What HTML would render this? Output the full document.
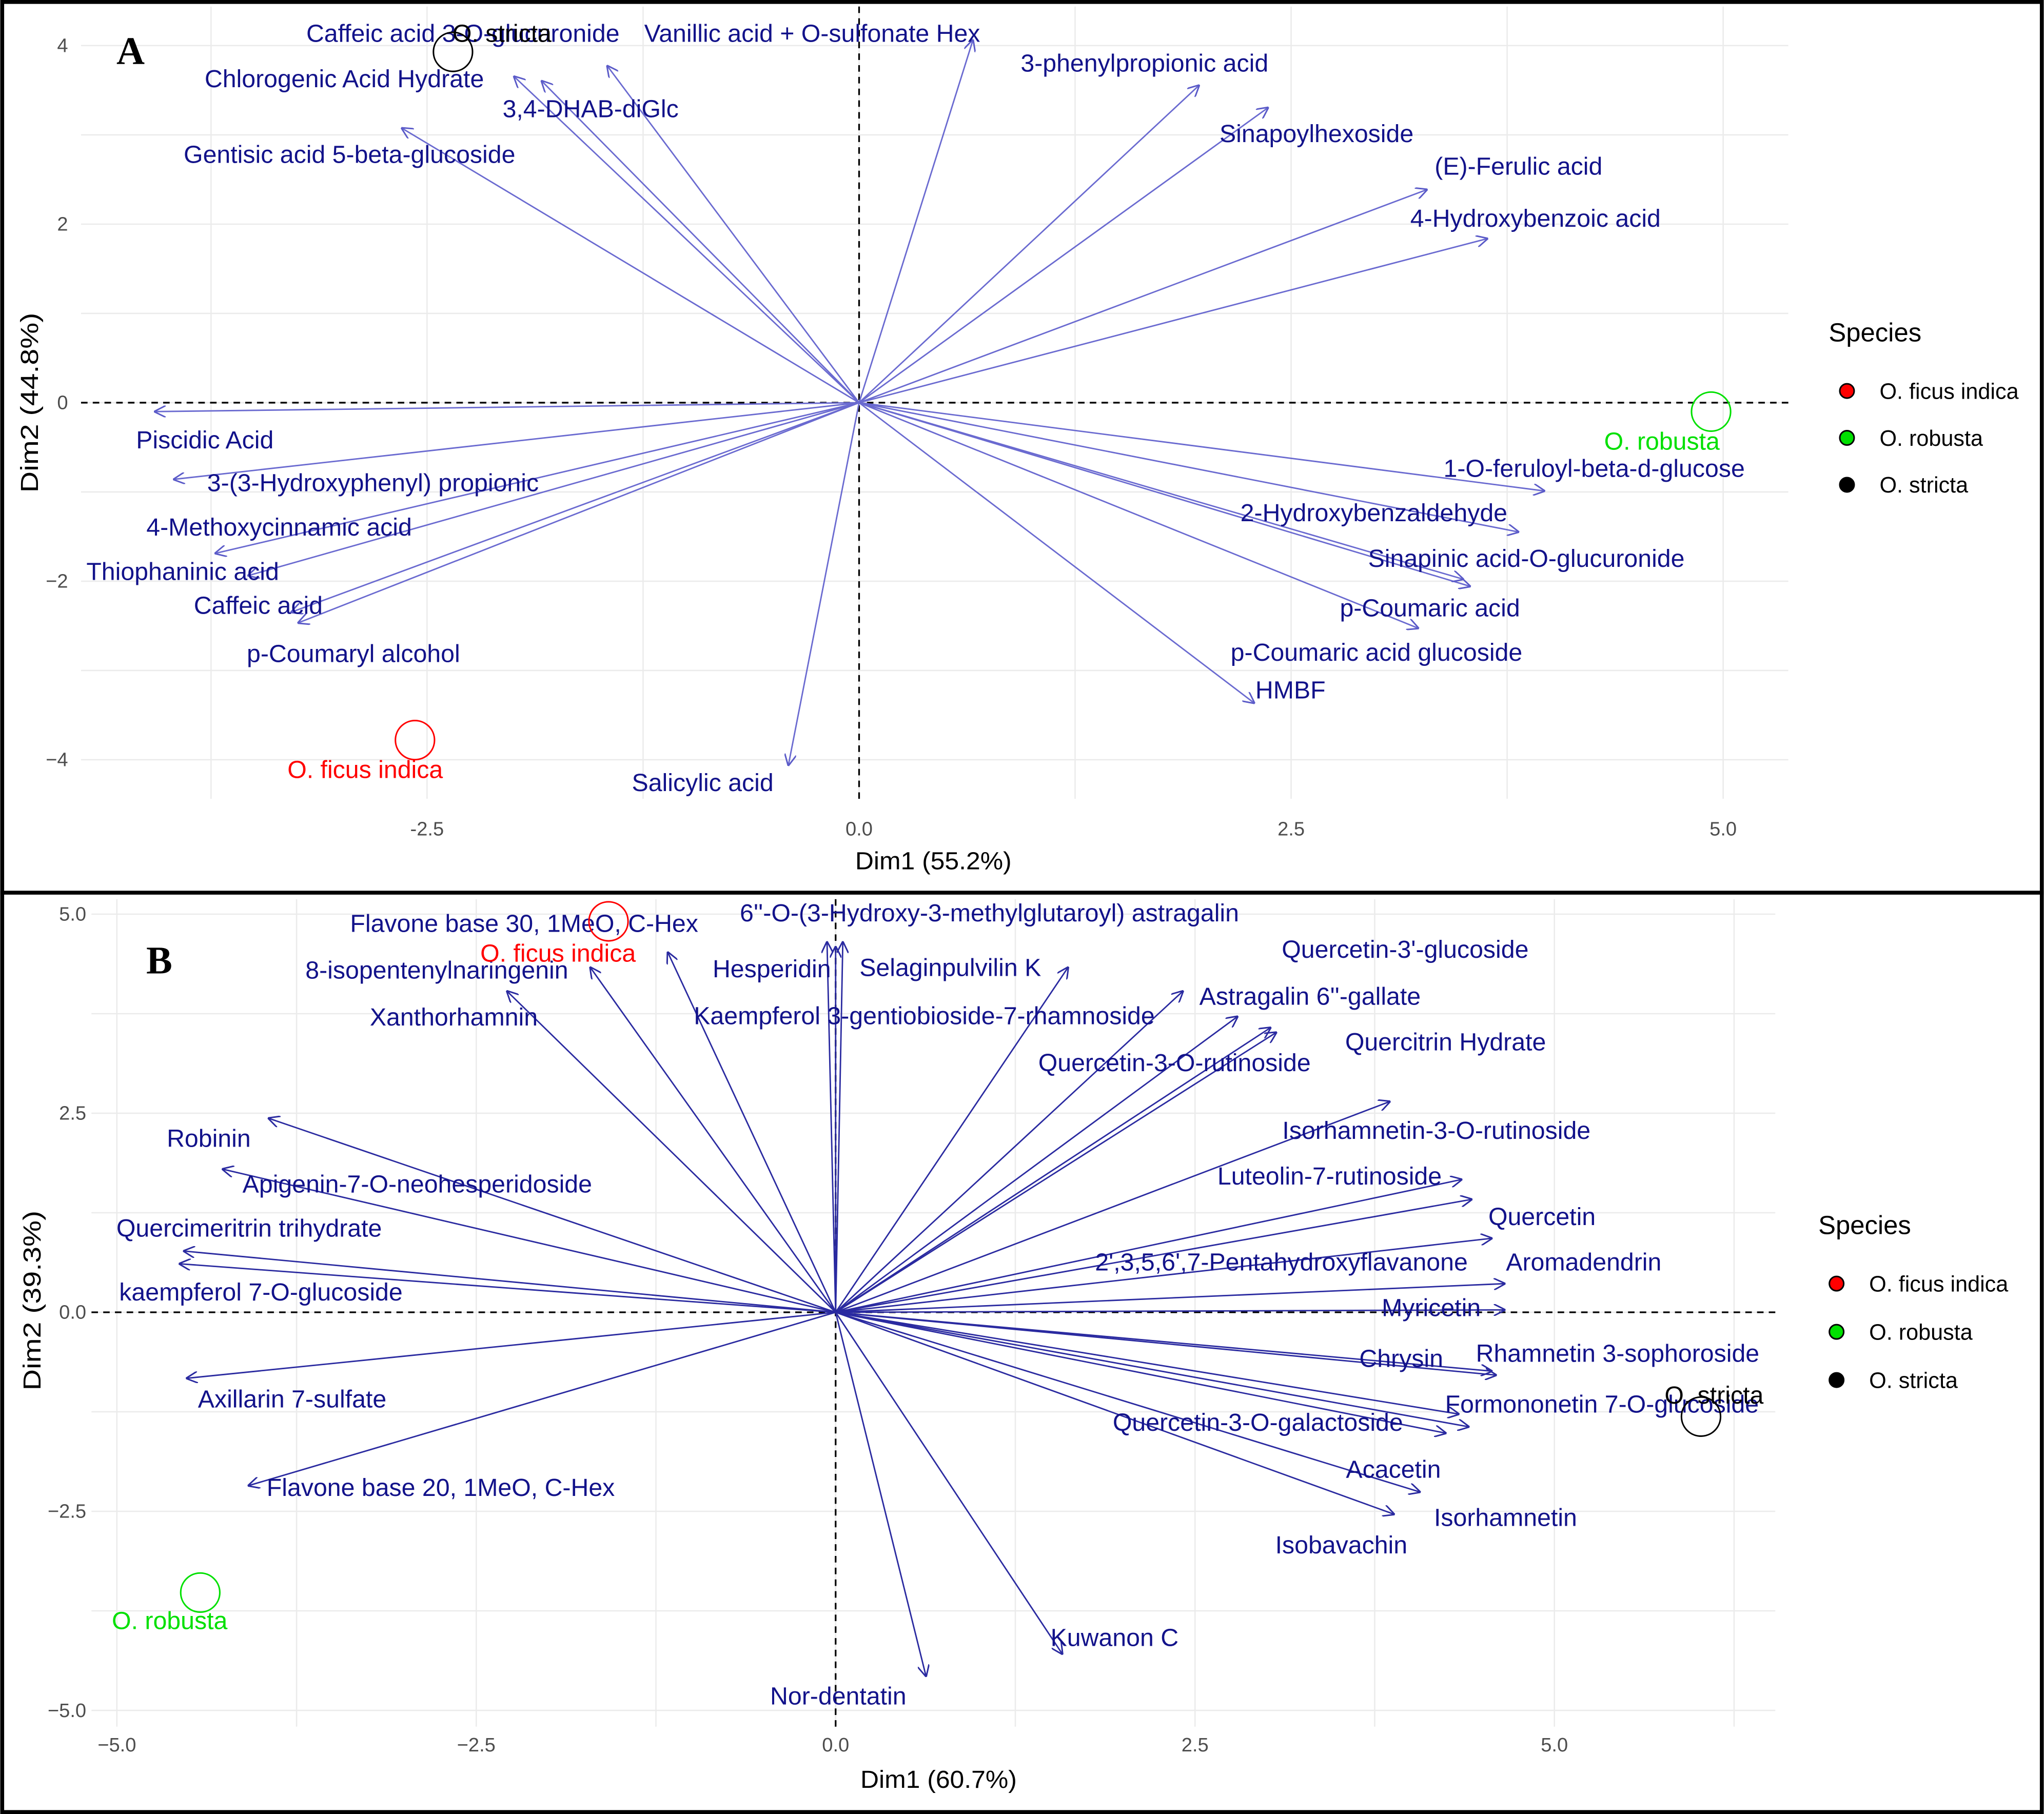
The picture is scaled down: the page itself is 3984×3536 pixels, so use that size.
<!DOCTYPE html>
<html><head><meta charset="utf-8"><style>
html,body{margin:0;padding:0;background:#fff;}
svg{display:block;font-family:"Liberation Sans",sans-serif;}
</style></head><body>
<svg id="fig" xmlns="http://www.w3.org/2000/svg" width="3984" height="3536" viewBox="0 0 1568 1392">
<defs>
<marker id="ah" viewBox="0 0 10 10" refX="10" refY="5" markerWidth="9" markerHeight="9" markerUnits="userSpaceOnUse" orient="auto">
<path d="M0,0 L10,5 L0,10" fill="none" stroke="#5a5ac8" stroke-width="1.3"/></marker>
<marker id="ahB" viewBox="0 0 10 10" refX="10" refY="5" markerWidth="9" markerHeight="9" markerUnits="userSpaceOnUse" orient="auto">
<path d="M0,0 L10,5 L0,10" fill="none" stroke="#2a2aa0" stroke-width="1.3"/></marker>
</defs>
<rect x="0" y="0" width="1568" height="1392" fill="#fff"/>
<g id="panelA"></g>
<g id="panelB"></g>
<rect x="1.5" y="1.5" width="1565" height="1389" fill="none" stroke="#000" stroke-width="3"/>
<line x1="0" y1="685" x2="1568" y2="685" stroke="#000" stroke-width="3"/>
</svg>
<script>
// ---------- Panel A data ----------
const varsA = ["Caffeic acid 3-O-glucuronide","Vanillic acid + O-sulfonate Hex","Chlorogenic Acid Hydrate","3,4-DHAB-diGlc","Gentisic acid 5-beta-glucoside","3-phenylpropionic acid","Sinapoylhexoside","(E)-Ferulic acid","4-Hydroxybenzoic acid","Piscidic Acid","3-(3-Hydroxyphenyl) propionic","4-Methoxycinnamic acid","Thiophaninic acid","Caffeic acid","p-Coumaryl alcohol","Salicylic acid","1-O-feruloyl-beta-d-glucose","2-Hydroxybenzaldehyde","Sinapinic acid-O-glucuronide","p-Coumaric acid","p-Coumaric acid glucoside","HMBF"];
const dim1A = [-1.46,0.66,-2.0,-1.84,-2.65,1.97,2.37,3.29,3.64,-4.08,-3.97,-3.73,-3.54,-3.25,-3.29,-0.41,3.97,3.82,3.54,3.50,3.24,2.29];
const dim2A = [3.78,4.07,3.66,3.61,3.08,3.56,3.31,2.39,1.84,-0.10,-0.86,-1.69,-1.94,-2.47,-2.35,-4.07,-0.99,-1.45,-2.06,-1.98,-2.53,-3.37];
const labelA = [[355,25],[623,25],[264,60],[453,83],[268,118],[878,48],[1010,102],[1165,127],[1178,167],[157,337],[286,370],[214,404],[140,438],[198,464],[271,501],[539,600],[1223,359],[1054,393],[1171,428],[1097,466],[1056,500],[990,529]];
const speciesA = ["O. ficus indica","O. robusta","O. stricta"];
const spDim1A = [-2.57,4.93,-2.35];
const spDim2A = [-3.78,-0.10,3.93];
const spLabelA = [[280,590],[1275,338],[385,25]];
const xTicksA = [-2.5,0.0,2.5,5.0];
const xTickLabelsA = ["-2.5","0.0","2.5","5.0"];
const yTicksA = [-4,-2,0,2,4];
const yTickLabelsA = ["\u22124","\u22122","0","2","4"];

// ---------- Panel B data ----------
const varsB = ["Flavone base 30, 1MeO, C-Hex","8-isopentenylnaringenin","Xanthorhamnin","6''-O-(3-Hydroxy-3-methylglutaroyl) astragalin","Hesperidin","Selaginpulvilin K","Kaempferol 3-gentiobioside-7-rhamnoside","Quercetin-3'-glucoside","Astragalin 6''-gallate","Quercitrin Hydrate","Quercetin-3-O-rutinoside","Isorhamnetin-3-O-rutinoside","Luteolin-7-rutinoside","Quercetin","2',3,5,6',7-Pentahydroxyflavanone","Aromadendrin","Myricetin","Chrysin","Rhamnetin 3-sophoroside","Formononetin 7-O-glucoside","Quercetin-3-O-galactoside","Acacetin","Isorhamnetin","Isobavachin","Kuwanon C","Nor-dentatin","Robinin","Apigenin-7-O-neohesperidoside","Quercimeritrin trihydrate","kaempferol 7-O-glucoside","Axillarin 7-sulfate","Flavone base 20, 1MeO, C-Hex"];
const dim1B = [-1.17,-1.71,-2.29,1.62,-0.06,0.05,0.0,2.42,2.80,3.07,3.03,3.86,4.36,4.43,4.57,4.66,4.66,4.60,4.57,4.41,4.34,4.07,3.89,4.25,1.58,0.63,-3.95,-4.27,-4.54,-4.57,-4.52,-4.09];
const dim2B = [4.53,4.34,4.04,4.34,4.66,4.66,4.60,4.04,3.72,3.52,3.58,2.65,1.67,1.42,0.93,0.36,0.03,-0.79,-0.74,-1.44,-1.28,-2.26,-2.54,-1.52,-4.30,-4.58,2.44,1.80,0.77,0.61,-0.83,-2.18];
const labelB = [[402,708],[335,744],[348,780],[759,700],[592,743],[729,742],[709,779],[1078,728],[1005,764],[1109,799],[901,815],[1102,867],[1020,902],[1183,933],[983,968],[1215,968],[1098,1003],[1075,1042],[1241,1038],[1229,1077],[965,1091],[1069,1127],[1155,1164],[1029,1185],[855,1256],[643,1301],[160,873],[320,908],[191,942],[200,991],[224,1073],[338,1141]];
const speciesB = ["O. ficus indica","O. robusta","O. stricta"];
const spDim1B = [-1.58,-4.42,6.02];
const spDim2B = [4.91,-3.52,-1.31];
const spLabelB = [[428,731],[130,1243],[1315,1070]];
const xTicksB = [-5.0,-2.5,0.0,2.5,5.0];
const xTickLabelsB = ["\u22125.0","\u22122.5","0.0","2.5","5.0"];
const yTicksB = [-5.0,-2.5,0.0,2.5,5.0];
const yTickLabelsB = ["\u22125.0","\u22122.5","0.0","2.5","5.0"];

const spColors = ["#ff0000","#00e000","#000000"];
const NS = "http://www.w3.org/2000/svg";
function mk(parent, tag, attrs, text){
  const e = document.createElementNS(NS, tag);
  for (const k in attrs) e.setAttribute(k, attrs[k]);
  if (text !== undefined) e.textContent = text;
  parent.appendChild(e);
  return e;
}

function drawPanel(g, cfg){
  const sx = v => cfg.ox + v * cfg.kx;
  const sy = v => cfg.oy - v * cfg.ky;
  for (let v = cfg.gx0; v <= cfg.gx1 + 1e-9; v += cfg.gstepX){
    const l = mk(g, "line", {x1:sx(v), x2:sx(v), y1:cfg.top, y2:cfg.bottom, stroke:"#ebebeb", "stroke-width":1});
    
    
  }
  for (let v = cfg.gy0; v <= cfg.gy1 + 1e-9; v += cfg.gstepY){
    const l = mk(g, "line", {x1:cfg.left, x2:cfg.right, y1:sy(v), y2:sy(v), stroke:"#ebebeb", "stroke-width":1});
    
    
  }
  const zx = mk(g, "line", {x1:sx(0), x2:sx(0), y1:cfg.top, y2:cfg.bottom, stroke:"#000", "stroke-width":1.3, "stroke-dasharray":"5,4"});
  
  
  const zy = mk(g, "line", {x1:cfg.left, x2:cfg.right, y1:sy(0), y2:sy(0), stroke:"#000", "stroke-width":1.3, "stroke-dasharray":"5,4"});
  
  
  cfg.xt.forEach((v,i)=>{
    const t = mk(g, "text", {x:sx(v), y:cfg.xtY, "text-anchor":"middle", "font-size":15, fill:"#4d4d4d"}, cfg.xtl[i]);
    
    
  });
  cfg.yt.forEach((v,i)=>{
    const t = mk(g, "text", {x:cfg.ytX, y:sy(v)+5, "text-anchor":"end", "font-size":15, fill:"#4d4d4d"}, cfg.ytl[i]);
    
    
  });
  cfg.names.forEach((n,i)=>{
    const a = mk(g, "line", {x1:sx(0), y1:sy(0), x2:sx(cfg.d1[i]), y2:sy(cfg.d2[i]), stroke:cfg.arrowColor, "stroke-width":1.1, "marker-end":cfg.marker});
    
    
  });
  cfg.names.forEach((n,i)=>{
    const t = mk(g, "text", {x:cfg.lab[i][0], y:cfg.lab[i][1]+7, "text-anchor":"middle", "font-size":19, fill:"#12128a"}, n);
    
    
  });
  cfg.sp.forEach((n,i)=>{
    const c = mk(g, "circle", {cx:sx(cfg.sp1[i]), cy:sy(cfg.sp2[i]), r:15, fill:"none", stroke:spColors[i], "stroke-width":1.2});
    
    
    const t = mk(g, "text", {x:cfg.spl[i][0], y:cfg.spl[i][1]+7, "text-anchor":"middle", "font-size":19, fill:spColors[i]}, n);
    
    
  });
  const xt = mk(g, "text", {x:cfg.xTitle[0], y:cfg.xTitle[1], "text-anchor":"middle", "font-size":19, fill:"#000", textLength:120, lengthAdjust:"spacingAndGlyphs"}, cfg.xTitleText);
  
  
  const yt = mk(g, "text", {x:0, y:0, transform:`translate(${cfg.yTitle[0]},${cfg.yTitle[1]}) rotate(-90)`, "text-anchor":"middle", "font-size":19, fill:"#000", textLength:138, lengthAdjust:"spacingAndGlyphs"}, cfg.yTitleText);
  
  
  const L = mk(g, "text", {x:cfg.letter[0], y:cfg.letter[1], "text-anchor":"middle", "font-size":30, "font-weight":"bold", "font-family":"Liberation Serif, serif", fill:"#000"}, cfg.letterText);
  
  
  const lt = mk(g, "text", {x:cfg.leg[0], y:cfg.leg[1], "font-size":20, fill:"#000"}, "Species");
  
  
  cfg.sp.forEach((n,i)=>{
    const yy = cfg.leg[1] + 38 + i*cfg.legStep;
    const d = mk(g, "circle", {cx:cfg.leg[0]+14, cy:yy, r:5.5, fill:spColors[i], stroke:"#000", "stroke-width":1.2});
    
    
    const t = mk(g, "text", {x:cfg.leg[0]+39, y:yy+6, "font-size":17, fill:"#000"}, n);
    
    
  });
}

drawPanel(document.getElementById("panelA"), {
  ox:659, oy:309, kx:132.6, ky:68.5,
  left:62, right:1372, top:5, bottom:613,
  gx0:-3.75, gx1:5.0, gstepX:1.25, gy0:-4, gy1:4, gstepY:1,
  xt:xTicksA, xtl:xTickLabelsA, yt:yTicksA, ytl:yTickLabelsA, xtY:641, ytX:52,
  names:varsA, d1:dim1A, d2:dim2A, lab:labelA,
  sp:speciesA, sp1:spDim1A, sp2:spDim2A, spl:spLabelA,
  arrowColor:"#6a6ad0", marker:"url(#ah)",
  xTitle:[716,667], xTitleText:"Dim1 (55.2%)", yTitle:[29,309], yTitleText:"Dim2 (44.8%)",
  letter:[100,49], letterText:"A", leg:[1403,262], legStep:36
});
drawPanel(document.getElementById("panelB"), {
  ox:641, oy:1007, kx:110.3, ky:61.1,
  left:70, right:1362, top:690, bottom:1325,
  gx0:-5.0, gx1:6.25, gstepX:1.25, gy0:-5.0, gy1:5.0, gstepY:1.25,
  xt:xTicksB, xtl:xTickLabelsB, yt:yTicksB, ytl:yTickLabelsB, xtY:1344, ytX:66,
  names:varsB, d1:dim1B, d2:dim2B, lab:labelB,
  sp:speciesB, sp1:spDim1B, sp2:spDim2B, spl:spLabelB,
  arrowColor:"#2a2aa0", marker:"url(#ahB)",
  xTitle:[720,1372], xTitleText:"Dim1 (60.7%)", yTitle:[31,998], yTitleText:"Dim2 (39.3%)",
  letter:[122,747], letterText:"B", leg:[1395,947], legStep:37
});
</script>
</body></html>
